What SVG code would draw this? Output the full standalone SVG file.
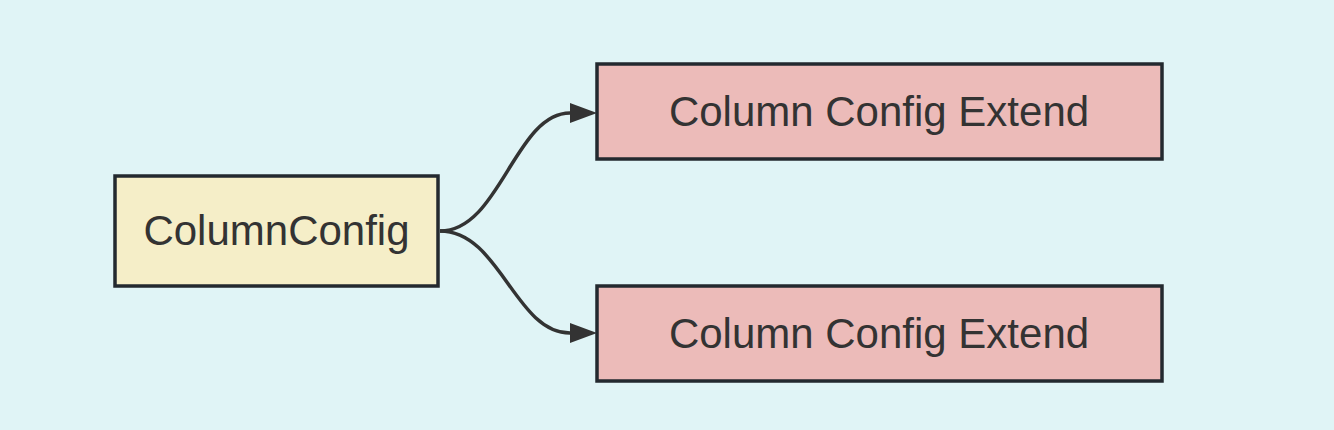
<svg xmlns="http://www.w3.org/2000/svg" width="1334" height="430" viewBox="0 0 1334 430">
<style>
.bg{fill:#e0f4f6}
.node rect{stroke:#23292f;stroke-width:3.5}
.base rect{fill:#f5eec8}
.ext rect{fill:#ecbbb9}
text{font-family:"Liberation Sans",Arial,sans-serif;font-size:42px;fill:#333;text-anchor:middle}
.edge{fill:none;stroke:#333;stroke-width:3.5}
</style>
<defs>
<marker id="arrow" viewBox="0 0 10 10" refX="0" refY="5" markerUnits="userSpaceOnUse" markerWidth="27" markerHeight="20" preserveAspectRatio="none" orient="auto">
<path d="M0,0 L10,5 L0,10 z" fill="#333"/>
</marker>
</defs>
<rect class="bg" x="0" y="0" width="1334" height="430"/>
<g id="edges">
<path class="edge" d="M440,231 C500,231 515,113 570,113" marker-end="url(#arrow)"/>
<path class="edge" d="M440,231 C500,231 515,333 570,333" marker-end="url(#arrow)"/>
</g>
<g id="columnConfig" class="node base">
<rect x="115" y="176" width="323" height="110"/>
<text x="276.5" y="245">ColumnConfig</text>
</g>
<g id="extend1" class="node ext">
<rect x="597" y="64" width="565" height="95"/>
<text x="879" y="126">Column Config Extend</text>
</g>
<g id="extend2" class="node ext">
<rect x="597" y="286" width="565" height="95"/>
<text x="879" y="348">Column Config Extend</text>
</g>
</svg>
